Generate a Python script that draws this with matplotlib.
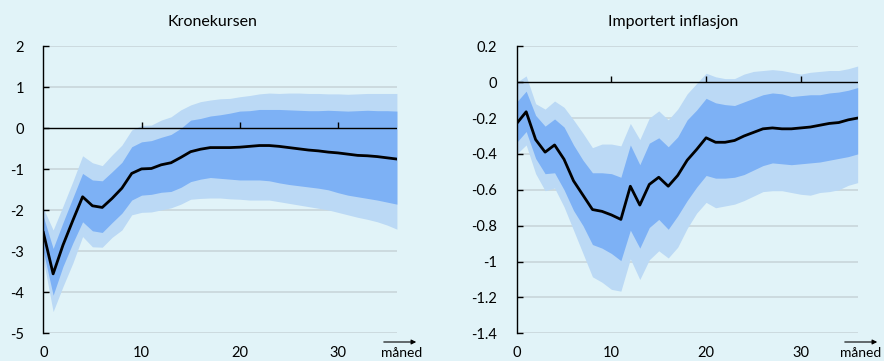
"""
Impulse responses with 70/90 percent bands: krone exchange rate and imported inflation.
"""

import matplotlib
matplotlib.use('Agg')
import matplotlib.pyplot as plt
import numpy as np

plt.rcParams['font.family'] = ['Lato', 'DejaVu Sans']

BG = '#e1f3f8'
DARK = '#7db1f5'
LIGHT = '#bbd9f5'
GRID = '#c8d6da'

months = np.arange(37)

# Kronekursen
kr_median = [-2.54, -3.55, -2.85, -2.25, -1.67, -1.89, -1.93, -1.71, -1.46, -1.10,
             -0.99, -0.98, -0.89, -0.84, -0.71, -0.57, -0.51, -0.47, -0.47, -0.47,
             -0.46, -0.44, -0.42, -0.42, -0.44, -0.47, -0.50, -0.53, -0.55, -0.58,
             -0.60, -0.63, -0.66, -0.67, -0.69, -0.72, -0.75]
kr_dark_hi = [-2.15, -2.93, -2.30, -1.70, -1.10, -1.26, -1.28, -1.06, -0.83, -0.45,
              -0.33, -0.30, -0.22, -0.15, 0.00, 0.20, 0.24, 0.30, 0.33, 0.37,
              0.42, 0.43, 0.46, 0.46, 0.46, 0.45, 0.44, 0.43, 0.43, 0.44,
              0.43, 0.42, 0.43, 0.44, 0.43, 0.43, 0.42]
kr_light_hi = [-1.95, -2.48, -1.90, -1.30, -0.67, -0.84, -0.91, -0.65, -0.41, -0.04,
               0.07, 0.08, 0.20, 0.28, 0.45, 0.57, 0.65, 0.69, 0.72, 0.73,
               0.77, 0.80, 0.84, 0.86, 0.85, 0.86, 0.86, 0.85, 0.85, 0.84,
               0.84, 0.83, 0.84, 0.85, 0.85, 0.85, 0.85]
kr_dark_lo = [-3.00, -4.07, -3.37, -2.80, -2.28, -2.50, -2.54, -2.30, -2.07, -1.75,
              -1.63, -1.61, -1.56, -1.54, -1.44, -1.30, -1.24, -1.20, -1.22, -1.24,
              -1.26, -1.26, -1.26, -1.28, -1.33, -1.37, -1.40, -1.43, -1.46, -1.50,
              -1.57, -1.63, -1.67, -1.71, -1.75, -1.80, -1.85]
kr_light_lo = [-3.20, -4.47, -3.86, -3.29, -2.64, -2.89, -2.90, -2.66, -2.48, -2.11,
               -2.05, -2.04, -1.99, -1.94, -1.85, -1.73, -1.71, -1.70, -1.70, -1.72,
               -1.73, -1.75, -1.75, -1.75, -1.79, -1.83, -1.87, -1.91, -1.95, -1.99,
               -2.05, -2.11, -2.17, -2.22, -2.28, -2.36, -2.46]

# Importert inflasjon
inf_median = [-0.23, -0.165, -0.32, -0.39, -0.35, -0.43, -0.55, -0.63, -0.71, -0.72,
              -0.74, -0.765, -0.58, -0.685, -0.57, -0.53, -0.58, -0.52, -0.435, -0.375,
              -0.31, -0.335, -0.335, -0.325, -0.30, -0.28, -0.26, -0.255, -0.26, -0.26,
              -0.255, -0.25, -0.24, -0.23, -0.225, -0.21, -0.20]
inf_dark_hi = [-0.11, -0.05, -0.185, -0.245, -0.205, -0.25, -0.35, -0.435, -0.505, -0.505,
               -0.51, -0.53, -0.35, -0.46, -0.34, -0.31, -0.36, -0.305, -0.21, -0.155,
               -0.09, -0.115, -0.125, -0.13, -0.11, -0.09, -0.07, -0.06, -0.065, -0.08,
               -0.075, -0.07, -0.07, -0.06, -0.055, -0.045, -0.03]
inf_light_hi = [0.00, 0.035, -0.12, -0.15, -0.105, -0.14, -0.21, -0.285, -0.365, -0.345,
                -0.345, -0.355, -0.23, -0.32, -0.20, -0.16, -0.21, -0.15, -0.065, -0.007,
                0.05, 0.03, 0.02, 0.02, 0.045, 0.06, 0.065, 0.07, 0.065, 0.055,
                0.045, 0.055, 0.06, 0.065, 0.065, 0.075, 0.09]
inf_dark_lo = [-0.335, -0.275, -0.425, -0.51, -0.505, -0.60, -0.715, -0.80, -0.905, -0.925,
               -0.955, -0.995, -0.825, -0.925, -0.81, -0.765, -0.82, -0.745, -0.66, -0.585,
               -0.52, -0.535, -0.535, -0.53, -0.515, -0.49, -0.465, -0.45, -0.455, -0.46,
               -0.455, -0.45, -0.445, -0.435, -0.425, -0.415, -0.40]
inf_light_lo = [-0.40, -0.35, -0.51, -0.605, -0.59, -0.695, -0.825, -0.955, -1.085, -1.115,
                -1.155, -1.165, -0.985, -1.10, -0.99, -0.94, -0.98, -0.92, -0.815, -0.73,
                -0.67, -0.70, -0.69, -0.68, -0.66, -0.635, -0.61, -0.605, -0.605, -0.615,
                -0.625, -0.63, -0.615, -0.61, -0.60, -0.575, -0.56]

kr_yticks = [2, 1, 0, -1, -2, -3, -4, -5]
inf_yticks = [0.2, 0, -0.2, -0.4, -0.6, -0.8, -1, -1.2, -1.4]
xticks = [0, 10, 20, 30]


def panel(ax, title, med, dhi, dlo, lhi, llo, yticks, tx):
    ax.set_facecolor(BG)
    ax.fill_between(months, llo, lhi, color=LIGHT, lw=0, zorder=1)
    ax.fill_between(months, dlo, dhi, color=DARK, lw=0, zorder=2)
    ax.plot(months, med, color='black', lw=2.0, zorder=4)

    ax.set_xlim(0, 36)
    ax.set_ylim(min(yticks), max(yticks))
    ax.set_yticks(yticks)
    ax.set_yticklabels([f'{v:g}' for v in yticks])
    for v in yticks:
        if v != 0:
            ax.axhline(v, color=GRID, lw=1.2, zorder=0.5)

    # zero line with upward month ticks on it
    ax.axhline(0, color='black', lw=1.0, zorder=5)
    ax.plot(xticks[1:], [0] * len(xticks[1:]), ls='none', marker=2, ms=4,
            mew=1.0, color='black', zorder=5)

    for s in ['top', 'right', 'bottom']:
        ax.spines[s].set_visible(False)
    ax.spines['left'].set_linewidth(1.0)
    ax.tick_params(axis='y', direction='in', length=4, width=1.0, pad=14,
                   labelsize=10.5, colors='black')
    ax.set_xticks(xticks)
    ax.tick_params(axis='x', length=0, pad=9, labelsize=10.5)

    fig.text(tx, 0.94, title, ha='center', va='center', fontsize=11.5)


fig = plt.figure(figsize=(8.84, 3.61), dpi=100)
fig.patch.set_facecolor(BG)

ax1 = fig.add_axes([0.049, 0.0767, 0.400, 0.795])
ax2 = fig.add_axes([0.5845, 0.0767, 0.3857, 0.795])

panel(ax1, 'Kronekursen', kr_median, kr_dark_hi, kr_dark_lo, kr_light_hi, kr_light_lo,
      kr_yticks, 212 / 884)
panel(ax2, 'Importert inflasjon', inf_median, inf_dark_hi, inf_dark_lo, inf_light_hi,
      inf_light_lo, inf_yticks, 673 / 884)

# "måned" with arrow
for x0, x1, xt in [(381, 419, 402), (842, 880, 861)]:
    fig.add_artist(matplotlib.patches.FancyArrowPatch(
        (x0 / 884, 1 - 342 / 361), (x1 / 884, 1 - 342 / 361),
        transform=fig.transFigure, arrowstyle='-|>', mutation_scale=7,
        color='black', lw=0.8))
    fig.text(xt / 884, 1 - 353 / 361, 'måned', ha='center', va='center', fontsize=10)

fig.savefig('out.png', dpi=100, facecolor=BG)
